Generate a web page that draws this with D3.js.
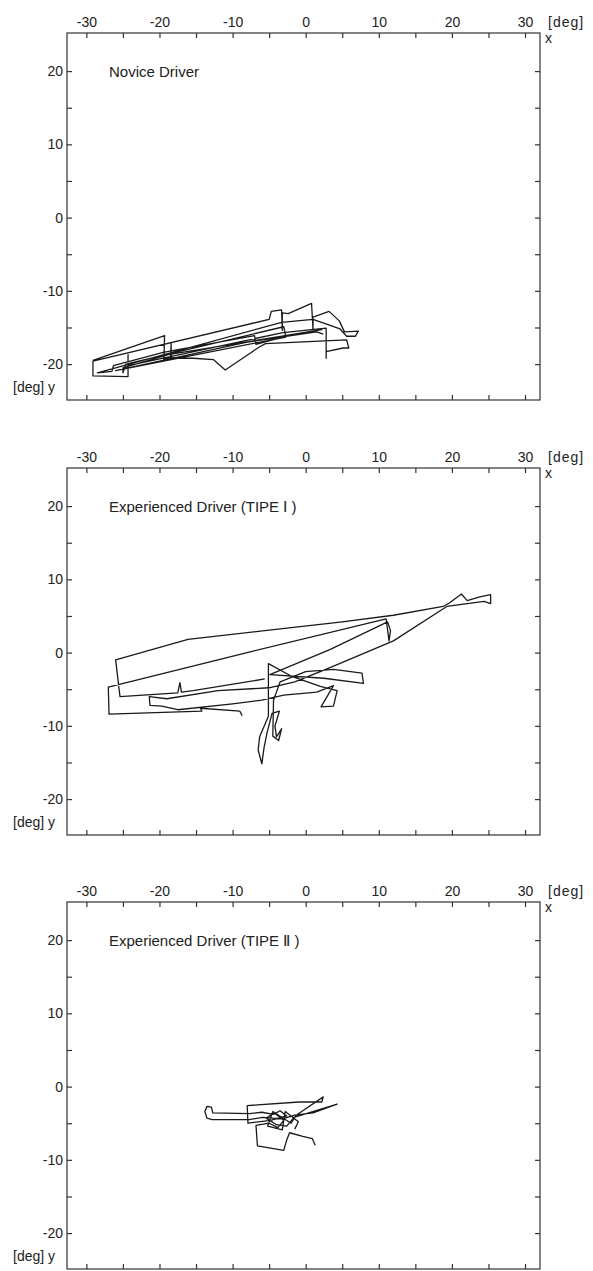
<html>
<meta charset="utf-8">

<style>
body {
  margin: 0;
  background: #fff;
}

text {
  font-family: "Liberation Sans", Arial, sans-serif;
  font-size: 14px;
  fill: #222;
}

.title {
  font-size: 15px;
}

.frame {
  fill: none;
  stroke: #333;
  stroke-width: 1.2;
}

.tick line {
  stroke: #333;
  stroke-width: 1.2;
}

.trace {
  fill: none;
  stroke: #1a1a1a;
  stroke-width: 1.3;
  stroke-linejoin: round;
}
</style>
<body>
<script src="https://cdn.jsdelivr.net/npm/d3@7"></script>
<script>

/*******************
data (deg)
********************/
var xTicks = [-30, -25, -20, -15, -10, -5, 0, 5, 10, 15, 20, 25, 30];
var xLabels = [-30, -20, -10, 0, 10, 20, 30];
var yTicks = [-20, -15, -10, -5, 0, 5, 10, 15, 20];
var yLabels = [-20, -10, 0, 10, 20];

var titles = ['Novice Driver', 'Experienced Driver (TIPE Ⅰ )', 'Experienced Driver (TIPE Ⅱ )'];

/* gaze paths as [x, y] */
var novice = [
  [-29.1,-19.5],[-19.3,-16.1],[-19.4,-19.4],[-18.4,-19.0],[-18.4,-17.2],[-18.5,-19.1],[-15.4,-19.2],
  [-12.6,-19.4],[-11.0,-20.8],[-6.4,-17.7],[-5.5,-17.2],[5.6,-16.7],[5.9,-17.8],[5.1,-17.8],
  [2.8,-18.3],[2.8,-19.2],[2.8,-15.1],[-3.1,-15.7],[-24.3,-20.2],[-24.3,-18.7],[-24.3,-21.7],
  [-29.1,-21.6],[-29.1,-19.6],[-5.0,-13.9],[-4.7,-12.8],[-3.3,-12.6],[-3.2,-15.4],[-3.2,-13.0],
  [-2.4,-13.1],[0.8,-11.7],[1.0,-15.2],[1.0,-13.6],[3.2,-12.8],[4.6,-14.1],[5.3,-15.6],
  [7.2,-15.5],[6.8,-16.2],[5.6,-16.2],[4.7,-15.2],[1.0,-13.9],[-3.3,-14.3],[-28.5,-21.2],
  [-26.5,-21.0],[-26.3,-20.2],[-19.5,-18.4],[-7.0,-16.1],[-6.8,-17.3],[-2.0,-16.0],[2.2,-15.3],
  [-18.8,-18.7],[-25.0,-20.5],[-25.0,-21.2],[-24.6,-20.0],[-3.0,-14.9],[-2.7,-16.3],[-26.0,-20.9],
  [-20.0,-19.6],[-8.0,-17.0],[1.5,-15.6],[2.4,-15.9]
];

var tipe1 = [
  [-5.6,-3.6],[-15.4,-5.2],[-17.0,-5.4],[-17.2,-4.1],[-17.5,-5.5],[-25.4,-6.0],[-26.0,-1.0],
  [-16.1,1.8],[-5.6,3.0],[5.0,4.2],[12.0,5.1],[18.8,6.3],[19.7,6.8],[21.3,8.0],[22.1,7.1],
  [23.8,7.6],[25.3,7.9],[25.3,6.7],[24.4,7.0],[19.3,6.3],[12.0,1.6],[3.0,-2.2],[-1.5,-4.0],
  [-5.0,-4.8],[-12.0,-5.2],[-19.0,-6.3],[-21.4,-6.0],[-21.3,-7.2],[-19.7,-7.3],[-17.5,-7.8],
  [-10.0,-7.0],[-6.0,-6.5],[-3.0,-5.8],[1.5,-5.4],[3.8,-4.5],[2.1,-7.4],[3.8,-7.3],[4.3,-5.2],
  [2.0,-4.6],[-2.0,-3.2],[-5.1,-1.5],[-5.1,-8.7],[-6.3,-11.5],[-6.5,-13.3],[-6.0,-15.2],
  [-5.7,-13.0],[-5.3,-11.0],[-4.6,-8.3],[-3.6,-8.0],[-4.2,-10.0],[-4.0,-11.5],[-3.3,-10.4],
  [-3.7,-12.0],[-4.5,-11.4],[-4.4,-6.5],[-3.5,-4.0],[0.0,-2.6],[3.8,-2.3],[7.7,-2.8],[7.9,-4.2],
  [2.5,-3.5],[-4.9,-3.0],[3.3,0.4],[11.2,4.2],[11.6,3.0],[11.4,1.6],[11.0,4.6],[-7.6,0.1],
  [-27.0,-4.7],[-26.9,-8.4],[-14.2,-8.0],[-14.4,-7.6],[-9.0,-8.0],[-8.7,-8.6]
];

var tipe2 = [
  [1.3,-8.0],[0.9,-7.1],[-0.4,-6.8],[-2.2,-6.3],[-2.6,-7.3],[-3.0,-8.7],[-6.6,-8.1],[-6.8,-5.3],
  [-5.0,-5.0],[-3.8,-5.6],[-3.0,-4.6],[-4.3,-3.6],[-5.4,-4.3],[-4.0,-5.2],[-2.6,-5.4],[-1.6,-4.2],
  [4.3,-2.4],[1.0,-3.6],[-1.5,-3.9],[-3.2,-4.4],[-5.9,-4.2],[-7.7,-4.5],[-12.8,-4.5],[-13.5,-4.3],
  [-13.8,-3.4],[-13.5,-2.7],[-12.9,-2.8],[-12.7,-3.6],[-7.7,-3.7],[-6.0,-3.5],[-4.4,-3.8],
  [-3.5,-3.3],[-2.6,-4.0],[-4.8,-4.6],[-7.9,-5.0],[-8.0,-2.6],[-0.9,-2.1],[2.2,-2.1],[2.4,-1.4],
  [-1.3,-3.9],[-2.0,-5.0],[-4.5,-3.4],[-5.2,-5.4],[-3.2,-5.9],[-2.8,-3.4],[-1.0,-4.8],[-1.5,-5.8]
];

var paths = [novice, tipe1, tipe2];

/*******************
global settings
********************/
var
    width = 593,
    height = 1271,
    left = 67,
    plotW = 473,
    plotH = 367,
    tops = [33, 468, 902],
    tick = 5
    ;

var svg = d3.select("body").append("svg")
    .attr("width", width)
    .attr("height", height);

var x = d3.scaleLinear().domain([-32.65, 32.05]).range([0, plotW]);
var y = d3.scaleLinear().domain([-24.9, 25.2]).range([plotH, 0]);

var line = d3.line()
    .x(function(d) { return x(d[0]); })
    .y(function(d) { return y(d[1]); });

function fmt(list) {
    return function(d) { return list.indexOf(d) >= 0 ? String(d) : ''; };
}

tops.forEach(function(top, i) {
    var g = svg.append("g").attr("transform", "translate(" + left + "," + top + ")");

    /* ticks point inward on all four sides, labels only top and left */
    g.append("g").call(d3.axisTop(x).tickValues(xTicks).tickSize(-tick).tickPadding(6).tickFormat(fmt(xLabels)));
    g.append("g").attr("transform", "translate(0," + plotH + ")")
        .call(d3.axisBottom(x).tickValues(xTicks).tickSize(-tick).tickFormat(''));
    g.append("g").call(d3.axisLeft(y).tickValues(yTicks).tickSize(-tick).tickPadding(4).tickFormat(fmt(yLabels)));
    g.append("g").attr("transform", "translate(" + plotW + ",0)")
        .call(d3.axisRight(y).tickValues(yTicks).tickSize(-tick).tickFormat(''));

    g.selectAll(".domain").remove();
    g.selectAll(".tick text").attr("font-family", null).attr("font-size", null).attr("fill", null);

    g.append("rect").attr("class", "frame")
        .attr("width", plotW)
        .attr("height", plotH);

    g.append("path").attr("class", "trace")
        .attr("d", line(paths[i]));

    g.append("text").attr("class", "title").attr("x", 42).attr("y", 44).text(titles[i]);

    /* axis units */
    g.append("text").attr("x", plotW + 8).attr("y", -6).attr("letter-spacing", 1).text("[deg]");
    g.append("text").attr("x", plotW + 5).attr("y", 10).text("x");
    g.append("text").attr("x", 13 - left).attr("y", plotH - 8).text("[deg] y");
});

</script>
</html>
